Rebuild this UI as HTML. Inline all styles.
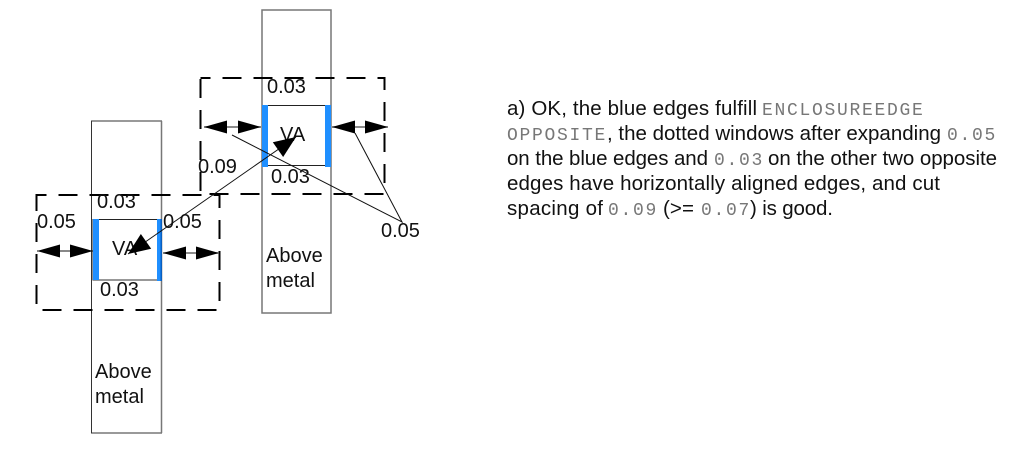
<!DOCTYPE html>
<html><head><meta charset="utf-8"><style>
html,body{margin:0;padding:0;background:#fff;width:1013px;height:455px;overflow:hidden}
svg{display:block}
text{font-family:"Liberation Sans",sans-serif;font-size:20px;fill:#111}
.t{font-size:20.500px}
.m{font-family:"Liberation Mono",monospace;font-size:18px;letter-spacing:1.7px;fill:#777}
</style></head><body>
<svg width="1013" height="455" viewBox="0 0 1013 455" xmlns="http://www.w3.org/2000/svg">
<defs>
<g id="ah"><path d="M0 0L23 -6.500V6.500Z" fill="#000"/></g>
<g id="ab"><path d="M0 0L22 -9V9Z" fill="#000"/></g>
</defs>
<path d="M91.500 121H161.500V433H91.500Z" fill="none" stroke="#333"/>
<line x1="161.500" y1="121" x2="161.500" y2="433" stroke="#777" stroke-width="1.500"/>
<rect x="262" y="10" width="69" height="303" fill="none" stroke="#777" stroke-width="1.500"/>
<rect x="36.500" y="195" width="183" height="115" fill="none" stroke="#000" stroke-width="2" stroke-dasharray="19 12" stroke-dashoffset="9"/>
<rect x="200.500" y="78" width="184" height="116" fill="none" stroke="#000" stroke-width="2" stroke-dasharray="19 12" stroke-dashoffset="9"/>
<rect x="93" y="219.500" width="68" height="60.500" fill="#fff" stroke="#222"/>
<line x1="93" y1="280" x2="161" y2="280" stroke="#777" stroke-width="1.500"/>
<rect x="263" y="105.500" width="66" height="60" fill="#fff" stroke="#222"/>
<rect x="93" y="219" width="6" height="61" fill="#1f8fff"/><rect x="157" y="219" width="5" height="62" fill="#1f8fff"/><rect x="160.500" y="219" width="1.500" height="62" fill="#0a5fc0"/>
<rect x="262" y="105" width="6" height="62" fill="#1f8fff"/><rect x="325" y="105" width="6" height="62" fill="#1f8fff"/>
<line x1="37" y1="251" x2="93" y2="251" stroke="#111"/><use href="#ah" transform="translate(37,251)"/><use href="#ah" transform="translate(93,251) rotate(180)"/>
<line x1="163" y1="253" x2="219" y2="253" stroke="#666" stroke-width="1.500"/><use href="#ah" transform="translate(163,253)"/><use href="#ah" transform="translate(219,253) rotate(180)"/>
<line x1="204" y1="127" x2="261" y2="127" stroke="#666" stroke-width="1.500"/><use href="#ah" transform="translate(204,127)"/><use href="#ah" transform="translate(261,127) rotate(180)"/>
<line x1="332" y1="127" x2="388" y2="127" stroke="#666" stroke-width="1.500"/><use href="#ah" transform="translate(332,127)"/><use href="#ah" transform="translate(388,127) rotate(180)"/>
<path d="M232 135L402 222L355 133" fill="none" stroke="#111"/>
<text x="97" y="208">0.03</text><text x="100" y="296">0.03</text>
<text x="37" y="228">0.05</text><text x="163" y="228">0.05</text>
<text x="112" y="255">VA</text><text x="280" y="141">VA</text>
<text x="267" y="93">0.03</text><text x="271" y="183">0.03</text>
<text x="198" y="173">0.09</text><text x="381" y="237">0.05</text>
<text x="95" y="378">Above</text><text x="95" y="403">metal</text>
<text x="266" y="262">Above</text><text x="266" y="287">metal</text>
<line x1="128" y1="254" x2="296" y2="137" stroke="#111"/>
<use href="#ab" transform="translate(296,137) rotate(145)"/>
<use href="#ab" transform="translate(128,254) rotate(-35)"/>
<text class="t" x="507" y="115" textLength="250">a) OK, the blue edges fulfill</text><text class="m" x="762" y="115">ENCLOSUREEDGE</text>
<text class="m" x="507" y="140">OPPOSITE</text><text class="t" x="607" y="140" textLength="334">, the dotted windows after expanding</text><text class="m" x="947" y="140">0.05</text>
<text class="t" x="507" y="165" textLength="201">on the blue edges and</text><text class="m" x="714" y="165">0.03</text><text class="t" x="768" y="165" textLength="229">on the other two opposite</text>
<text class="t" x="507" y="190" textLength="433">edges have horizontally aligned edges, and cut</text>
<text class="t" x="507" y="215" textLength="96">spacing of</text><text class="m" x="608" y="215">0.09</text><text class="t" x="663" y="215" textLength="31">(&gt;=</text><text class="m" x="701" y="215">0.07</text><text class="t" x="750" y="215" textLength="83">) is good.</text>
</svg>
</body></html>
